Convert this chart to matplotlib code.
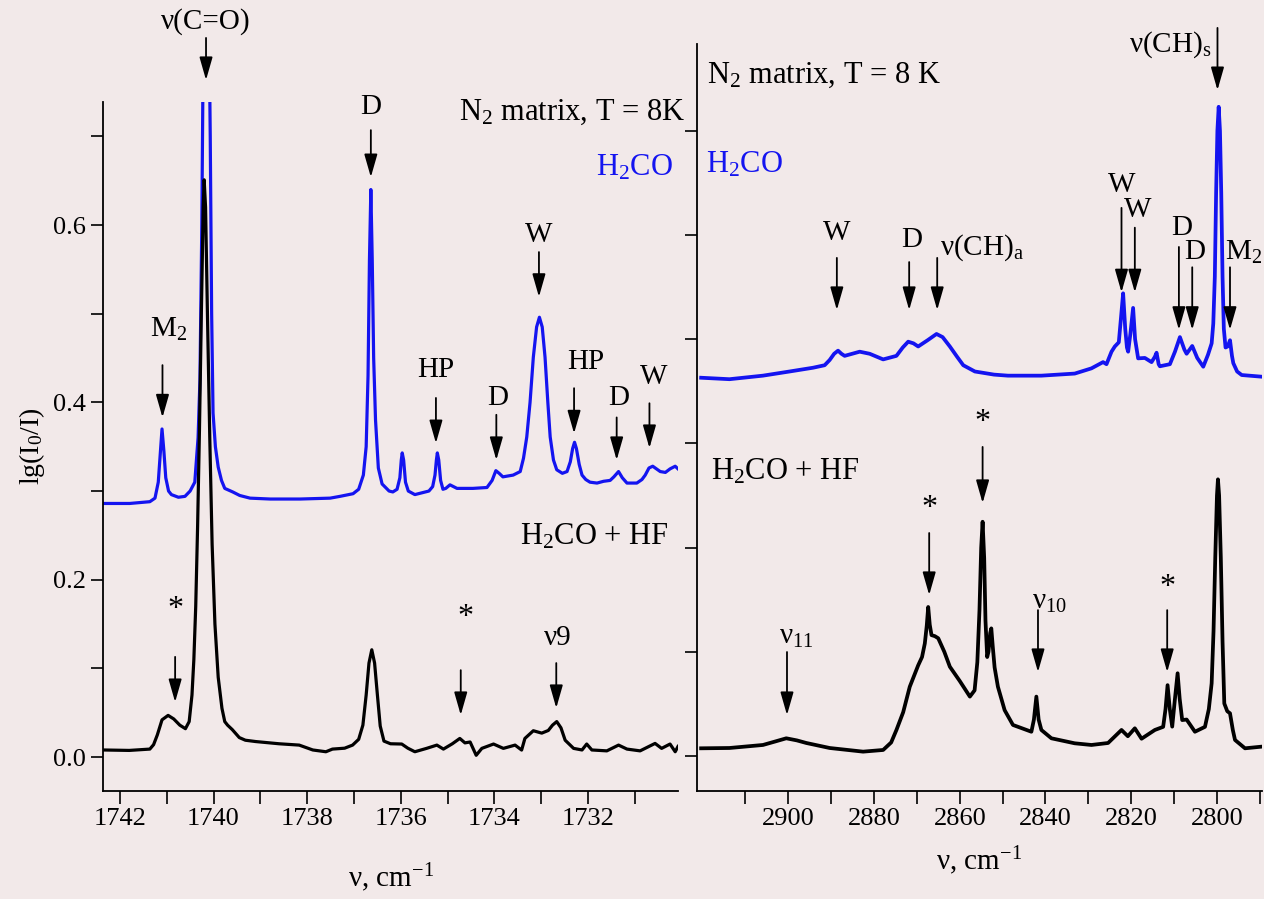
import matplotlib
matplotlib.use('Agg')
import matplotlib.pyplot as plt
from matplotlib.ticker import MultipleLocator, FixedLocator

# left panel (nu(C=O) region): (wavenumber, lg(I0/I))
co_blue = [(1742.36, 0.286), (1741.79, 0.286), (1741.36, 0.288), (1741.25, 0.292), (1741.18, 0.31),
           (1741.14, 0.34), (1741.10, 0.370), (1741.06, 0.345), (1741.02, 0.315), (1740.96, 0.300),
           (1740.90, 0.296), (1740.75, 0.293), (1740.61, 0.294), (1740.50, 0.300), (1740.40, 0.310),
           (1740.33, 0.36), (1740.29, 0.425), (1740.25, 0.60), (1740.22, 0.80), (1740.16, 1.0),
           (1740.10, 0.85), (1740.07, 0.70), (1740.04, 0.50), (1740.01, 0.388), (1739.96, 0.35),
           (1739.90, 0.327), (1739.83, 0.312), (1739.76, 0.303), (1739.59, 0.299), (1739.44, 0.295),
           (1739.22, 0.292), (1738.79, 0.291), (1738.15, 0.291), (1737.51, 0.292), (1737.30, 0.294),
           (1737.02, 0.297), (1736.90, 0.302), (1736.80, 0.318), (1736.74, 0.35), (1736.70, 0.43),
           (1736.67, 0.56), (1736.64, 0.640), (1736.61, 0.56), (1736.58, 0.45), (1736.54, 0.38),
           (1736.48, 0.326), (1736.40, 0.308), (1736.25, 0.300), (1736.17, 0.299), (1736.08, 0.302),
           (1736.02, 0.315), (1735.99, 0.335), (1735.97, 0.343), (1735.94, 0.335), (1735.90, 0.31),
           (1735.84, 0.300), (1735.70, 0.296), (1735.55, 0.298), (1735.40, 0.300), (1735.32, 0.305),
           (1735.27, 0.318), (1735.24, 0.335), (1735.22, 0.343), (1735.19, 0.335), (1735.15, 0.312),
           (1735.10, 0.302), (1735.04, 0.303), (1734.95, 0.307), (1734.80, 0.303), (1734.46, 0.303),
           (1734.16, 0.304), (1734.05, 0.312), (1733.97, 0.323), (1733.90, 0.320), (1733.82, 0.316),
           (1733.60, 0.318), (1733.45, 0.322), (1733.38, 0.337), (1733.31, 0.361), (1733.24, 0.40),
           (1733.17, 0.451), (1733.10, 0.485), (1733.04, 0.496), (1732.98, 0.485), (1732.92, 0.451),
           (1732.86, 0.40), (1732.81, 0.361), (1732.74, 0.335), (1732.67, 0.324), (1732.55, 0.320),
           (1732.45, 0.322), (1732.38, 0.333), (1732.33, 0.348), (1732.29, 0.355), (1732.25, 0.348),
           (1732.19, 0.330), (1732.13, 0.318), (1732.05, 0.313), (1731.96, 0.310), (1731.81, 0.309),
           (1731.67, 0.311), (1731.53, 0.312), (1731.45, 0.316), (1731.35, 0.322), (1731.27, 0.315),
           (1731.17, 0.309), (1730.96, 0.309), (1730.85, 0.313), (1730.78, 0.318), (1730.70, 0.326),
           (1730.62, 0.328), (1730.54, 0.325), (1730.46, 0.322), (1730.35, 0.321), (1730.25, 0.325),
           (1730.14, 0.328), (1730.08, 0.325)]

co_black = [(1742.36, 0.008), (1741.80, 0.0075), (1741.36, 0.009), (1741.28, 0.014), (1741.20, 0.025),
            (1741.10, 0.042), (1740.97, 0.047), (1740.85, 0.043), (1740.72, 0.036), (1740.60, 0.032),
            (1740.52, 0.040), (1740.46, 0.070), (1740.42, 0.11), (1740.38, 0.17), (1740.34, 0.26),
            (1740.30, 0.37), (1740.26, 0.50), (1740.22, 0.62), (1740.20, 0.651), (1740.17, 0.62),
            (1740.13, 0.50), (1740.08, 0.36), (1740.03, 0.24), (1739.97, 0.15), (1739.90, 0.09),
            (1739.82, 0.055), (1739.76, 0.040), (1739.70, 0.036), (1739.60, 0.031), (1739.45, 0.022),
            (1739.32, 0.019), (1739.10, 0.0175), (1738.60, 0.015), (1738.17, 0.0135), (1737.88, 0.008),
            (1737.60, 0.006), (1737.46, 0.009), (1737.20, 0.010), (1737.03, 0.0135), (1736.90, 0.020),
            (1736.81, 0.036), (1736.74, 0.07), (1736.68, 0.106), (1736.62, 0.121), (1736.56, 0.106),
            (1736.50, 0.07), (1736.44, 0.035), (1736.36, 0.018), (1736.22, 0.015), (1735.98, 0.0147),
            (1735.85, 0.010), (1735.70, 0.006), (1735.45, 0.0098), (1735.23, 0.0135), (1735.09, 0.009),
            (1734.90, 0.015), (1734.74, 0.021), (1734.63, 0.016), (1734.52, 0.017), (1734.39, 0.002),
            (1734.27, 0.0098), (1734.02, 0.0147), (1733.81, 0.0098), (1733.56, 0.0135), (1733.42, 0.0079),
            (1733.35, 0.021), (1733.17, 0.0297), (1732.99, 0.027), (1732.85, 0.030), (1732.76, 0.036),
            (1732.67, 0.040), (1732.58, 0.033), (1732.49, 0.019), (1732.31, 0.0098), (1732.13, 0.008),
            (1732.03, 0.0147), (1731.92, 0.008), (1731.60, 0.007), (1731.35, 0.0135), (1731.17, 0.009),
            (1730.89, 0.007), (1730.57, 0.0154), (1730.43, 0.0098), (1730.25, 0.0147), (1730.14, 0.006),
            (1730.08, 0.012)]

# right panel (nu(CH) region)
ch_blue = [(2920.33, 0.363), (2913.72, 0.3616), (2905.91, 0.365), (2899.70, 0.369), (2894.23, 0.3726),
           (2891.52, 0.375), (2890.35, 0.380), (2889.3, 0.386), (2888.39, 0.389), (2887.6, 0.386),
           (2886.85, 0.384), (2883.34, 0.388), (2881.01, 0.386), (2877.87, 0.3806), (2874.77, 0.384),
           (2873.3, 0.392), (2872.03, 0.3976), (2870.8, 0.396), (2869.70, 0.393), (2867.5, 0.399),
           (2865.42, 0.405), (2864.0, 0.402), (2862.31, 0.393), (2860.6, 0.383), (2859.18, 0.375),
           (2856.47, 0.369), (2852.0, 0.366), (2848.76, 0.365), (2840.96, 0.365), (2833.18, 0.367),
           (2829.28, 0.372), (2826.57, 0.378), (2825.77, 0.376), (2824.6, 0.388), (2823.83, 0.393),
           (2822.90, 0.397), (2822.4, 0.42), (2821.89, 0.444), (2821.4, 0.41), (2821.0, 0.392),
           (2820.72, 0.388), (2820.2, 0.405), (2819.56, 0.430), (2819.1, 0.40), (2818.39, 0.3816),
           (2816.82, 0.382), (2815.26, 0.378), (2814.5, 0.383), (2814.09, 0.387), (2813.6, 0.376),
           (2813.32, 0.374), (2810.98, 0.376), (2809.8, 0.388), (2808.64, 0.402), (2807.6, 0.390),
           (2807.08, 0.386), (2805.77, 0.3935), (2804.6, 0.382), (2803.20, 0.3736), (2802.1, 0.385),
           (2801.24, 0.396), (2800.86, 0.415), (2800.50, 0.46), (2800.20, 0.54), (2799.90, 0.60),
           (2799.60, 0.623), (2799.30, 0.60), (2799.00, 0.54), (2798.70, 0.46), (2798.40, 0.41),
           (2798.0, 0.392), (2797.5, 0.393), (2796.96, 0.399), (2796.5, 0.384), (2796.19, 0.377),
           (2795.3, 0.369), (2794.23, 0.3656), (2789.56, 0.364)]

ch_black = [(2920.33, 0.0074), (2913.72, 0.0077), (2905.91, 0.0106), (2903.0, 0.014), (2900.47, 0.017),
            (2898.0, 0.015), (2895.79, 0.0125), (2890.35, 0.0077), (2882.55, 0.0042), (2877.87, 0.0058),
            (2876.0, 0.013), (2874.77, 0.025), (2873.2, 0.042), (2871.66, 0.0665), (2869.70, 0.087),
            (2868.8, 0.095), (2868.15, 0.108), (2867.7, 0.125), (2867.36, 0.143), (2867.0, 0.126),
            (2866.59, 0.116), (2865.8, 0.115), (2865.02, 0.113), (2863.6, 0.100), (2862.31, 0.0857),
            (2860.0, 0.072), (2857.64, 0.057), (2856.54, 0.063), (2855.9, 0.09), (2855.4, 0.14),
            (2855.0, 0.20), (2854.67, 0.2248), (2854.3, 0.19), (2854.0, 0.13), (2853.6, 0.095),
            (2853.3, 0.10), (2852.9, 0.118), (2852.64, 0.1225), (2852.3, 0.105), (2851.87, 0.085),
            (2851.10, 0.0665), (2849.53, 0.044), (2847.59, 0.0298), (2843.29, 0.0233), (2842.7, 0.035),
            (2842.13, 0.057), (2841.6, 0.035), (2840.96, 0.025), (2838.62, 0.017), (2833.18, 0.0122),
            (2829.28, 0.0106), (2825.40, 0.0125), (2822.27, 0.025), (2820.79, 0.019), (2819.16, 0.0266),
            (2817.59, 0.0166), (2814.49, 0.025), (2812.55, 0.028), (2812.0, 0.045), (2811.52, 0.068),
            (2811.0, 0.045), (2810.44, 0.0282), (2809.8, 0.055), (2809.18, 0.0794), (2808.7, 0.055),
            (2808.11, 0.0345), (2807.08, 0.035), (2805.14, 0.0233), (2802.80, 0.028), (2801.9, 0.045),
            (2801.24, 0.0698), (2800.8, 0.12), (2800.4, 0.19), (2800.0, 0.25), (2799.77, 0.2655),
            (2799.5, 0.25), (2799.1, 0.19), (2798.7, 0.11), (2798.29, 0.0504), (2797.6, 0.043),
            (2796.96, 0.041), (2796.3, 0.025), (2795.79, 0.0154), (2793.46, 0.0074), (2789.56, 0.009)]

# arrows: (x, y_start, y_tip, label, label_x, label_y)
co_marks = [
    (1740.16, 0.811, 0.7635, 'ν(C=O)', 1740.16, 0.829),
    (1736.64, 0.707, 0.654, 'D', 1736.64, 0.733),
    (1741.09, 0.442, 0.383, 'M$_2$', 1740.97, 0.482),
    (1740.82, 0.113, 0.062, '*', 1740.82, 0.166),
    (1735.25, 0.405, 0.354, 'HP', 1735.25, 0.436),
    (1733.96, 0.386, 0.335, 'D', 1733.94, 0.405),
    (1733.05, 0.5695, 0.519, 'W', 1733.05, 0.589),
    (1732.30, 0.416, 0.365, 'HP', 1732.05, 0.4455),
    (1731.39, 0.383, 0.335, 'D', 1731.34, 0.405),
    (1730.69, 0.399, 0.3485, 'W', 1730.60, 0.4286),
    (1734.72, 0.098, 0.0474, '*', 1734.63, 0.157),
    (1732.68, 0.106, 0.0553, 'ν9', 1732.64, 0.134),
]
ch_marks = [
    (2888.67, 0.478, 0.428, 'W', 2888.67, 0.502),
    (2871.80, 0.474, 0.428, 'D', 2871.26, 0.495),
    (2865.26, 0.478, 0.428, '', 0, 0),
    (2822.27, 0.526, 0.445, 'W', 2822.27, 0.548),
    (2819.16, 0.507, 0.445, 'W', 2818.40, 0.524),
    (2808.88, 0.4885, 0.409, 'D', 2808.25, 0.5067),
    (2805.77, 0.469, 0.409, 'D', 2805.14, 0.4837),
    (2796.96, 0.469, 0.409, 'M$_2$', 2793.70, 0.4837),
    (2799.88, 0.6987, 0.639, '', 0, 0),
    (2900.30, 0.0998, 0.0393, 'ν$_{11}$', 2898.10, 0.1142),
    (2867.13, 0.214, 0.1545, '*', 2867.13, 0.238),
    (2854.67, 0.2966, 0.2428, '*', 2854.67, 0.3205),
    (2841.75, 0.140, 0.0806, 'ν$_{10}$', 2839.00, 0.148),
    (2811.61, 0.140, 0.0806, '*', 2811.61, 0.162),
]

bg = '#f2e9e9'
blue = '#1414f0'
plt.rcParams['font.family'] = 'Liberation Serif'
plt.rcParams['mathtext.fontset'] = 'custom'
plt.rcParams['mathtext.rm'] = 'Liberation Serif'
plt.rcParams['mathtext.it'] = 'Liberation Serif:italic'

fig = plt.figure(figsize=(12.64, 8.99), dpi=100, facecolor=bg)
ax1 = fig.add_axes([0.0815, 0.1201, 0.4549, 0.7664], facecolor=bg)
ax2 = fig.add_axes([0.5514, 0.1201, 0.4470, 0.8310], facecolor=bg)


def style(ax):
    for s in ['top', 'right']:
        ax.spines[s].set_visible(False)
    for s in ['left', 'bottom']:
        ax.spines[s].set_linewidth(1.3)
    ax.tick_params(which='both', direction='out', length=9, width=1.2, labelsize=19)


def mark(ax, m):
    x, y0, y1, lab, lx, ly = m
    ax.annotate('', xy=(x, y1), xytext=(x, y0), annotation_clip=False,
                arrowprops=dict(arrowstyle='-|>,head_length=0.7,head_width=0.2', color='k',
                                lw=1.3, mutation_scale=20, shrinkA=0, shrinkB=0))
    if lab:
        size = 23 if lab == '*' else 21
        ax.text(lx, ly, lab, ha='center', va='center', fontsize=size, clip_on=False)


# left
ax1.plot([p[0] for p in co_blue], [p[1] for p in co_blue], color=blue, lw=2.3)
ax1.plot([p[0] for p in co_black], [p[1] for p in co_black], color='k', lw=2.3)
ax1.set_xlim(1742.36, 1730.08)
ax1.set_ylim(-0.0383, 0.7387)
style(ax1)
ax1.xaxis.set_major_locator(MultipleLocator(2))
ax1.xaxis.set_minor_locator(MultipleLocator(1))
ax1.yaxis.set_major_locator(MultipleLocator(0.2))
ax1.yaxis.set_minor_locator(MultipleLocator(0.1))
ax1.yaxis.set_major_formatter(lambda v, p: f'{v:.1f}')
ax1.set_ylabel('lg(I$_0$/I)', fontsize=20, labelpad=4)
ax1.set_xlabel('ν, cm$^{-1}$', fontsize=21, labelpad=22)
for m in co_marks:
    mark(ax1, m)
ax1.text(1729.93, 0.727, 'N$_2$ matrix, T = 8K', ha='right', va='center', fontsize=22, clip_on=False)
ax1.text(1731.02, 0.665, 'H$_2$CO', ha='center', va='center', fontsize=22, color=blue)
ax1.text(1731.87, 0.248, 'H$_2$CO + HF', ha='center', va='center', fontsize=22)

# right
ax2.plot([p[0] for p in ch_blue], [p[1] for p in ch_blue], color=blue, lw=2.7)
ax2.plot([p[0] for p in ch_black], [p[1] for p in ch_black], color='k', lw=2.7)
ax2.set_xlim(2921.3, 2789.5)
ax2.set_ylim(-0.0336, 0.6833)
style(ax2)
ax2.xaxis.set_major_locator(FixedLocator([2900, 2880, 2860, 2840, 2820, 2800]))
ax2.xaxis.set_minor_locator(FixedLocator([2910, 2890, 2870, 2850, 2830, 2810, 2790]))
ax2.yaxis.set_major_locator(MultipleLocator(0.1))
ax2.yaxis.set_ticklabels([])
ax2.set_xlabel('ν, cm$^{-1}$', fontsize=21, labelpad=10)
for m in ch_marks:
    mark(ax2, m)
ax2.text(2864.7, 0.4875, 'ν(CH)$_\\mathrm{a}$', ha='left', va='center', fontsize=21)
ax2.text(2801.17, 0.6823, 'ν(CH)$_\\mathrm{s}$', ha='right', va='center', fontsize=21, clip_on=False)
ax2.text(2918.9, 0.6536, 'N$_2$ matrix, T = 8 K', ha='left', va='center', fontsize=22)
ax2.text(2919.2, 0.567, 'H$_2$CO', ha='left', va='center', fontsize=22, color=blue)
ax2.text(2918.0, 0.2726, 'H$_2$CO + HF', ha='left', va='center', fontsize=22)

fig.savefig('out.png', dpi=100, facecolor=bg)
